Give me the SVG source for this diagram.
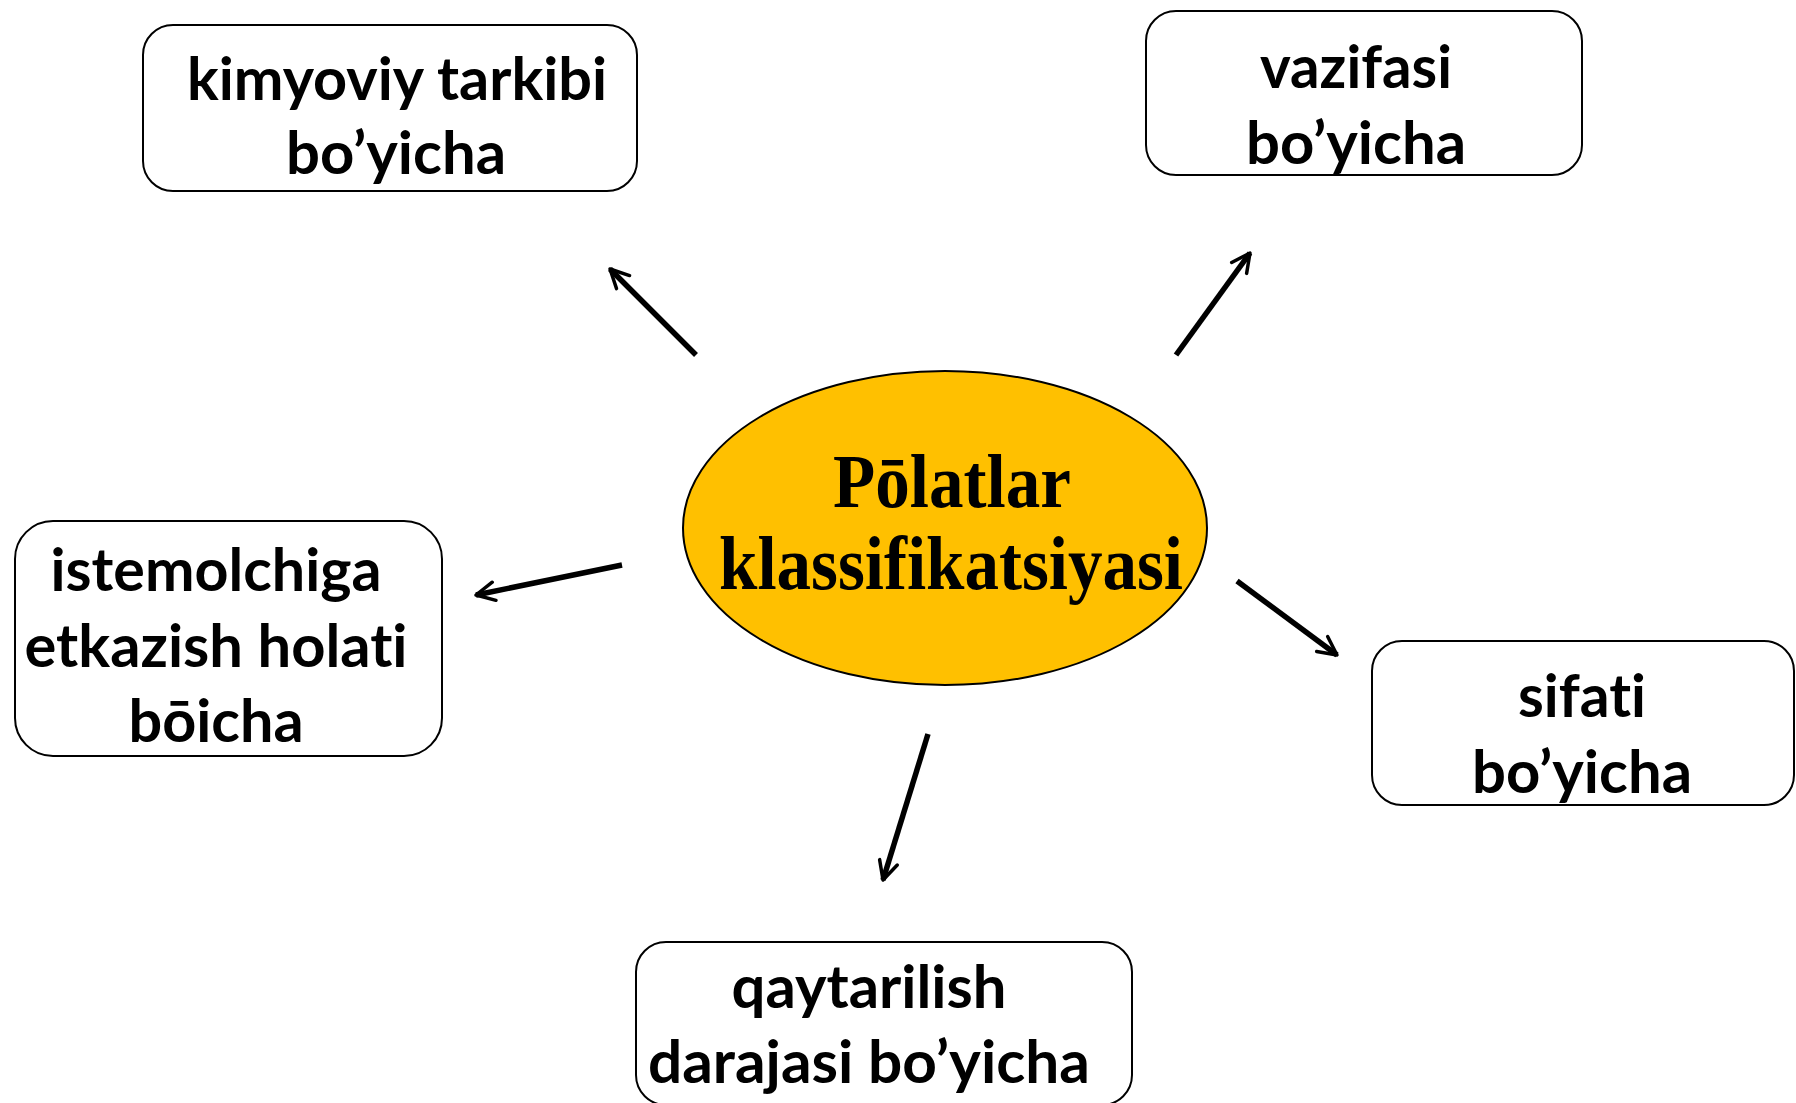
<svg xmlns="http://www.w3.org/2000/svg" width="1796" height="1103" viewBox="0 0 1796 1103">
<style>
.box{fill:#fff;stroke:#000;stroke-width:2}
.lbl{font-family:Lato,"Liberation Sans",sans-serif;font-weight:700;font-size:59px;fill:#000;text-anchor:middle;font-variant-ligatures:none;font-feature-settings:"liga" 0,"clig" 0}
.ctr{font-family:"Liberation Serif","Times New Roman",serif;font-weight:700;font-size:76px;fill:#000;text-anchor:middle}
.conn{stroke:#000;stroke-width:5.5;fill:none;marker-end:url(#arr)}
</style>
<defs>
<marker id="arr" viewBox="0 0 10 10" markerWidth="4.2" markerHeight="4.2" refX="9" refY="5" orient="auto" markerUnits="strokeWidth">
<path d="M1,1 L9,5 L1,9" fill="none" stroke="#000" stroke-width="1.5" stroke-linecap="round" stroke-linejoin="round"/>
</marker>
</defs>
<rect width="1796" height="1103" fill="#fff"/>
<g id="connectors">
<line class="conn" x1="696" y1="355" x2="610" y2="269"/>
<line class="conn" x1="1176" y1="355" x2="1250" y2="253"/>
<line class="conn" x1="622" y1="565" x2="476" y2="595"/>
<line class="conn" x1="1237" y1="581" x2="1337" y2="655"/>
<line class="conn" x1="928" y1="734" x2="883" y2="880"/>
</g>
<g id="center">
<ellipse cx="945" cy="528" rx="262" ry="157" fill="#FFC000" stroke="#000" stroke-width="2"/>
<text class="ctr" x="952" y="507" textLength="238" lengthAdjust="spacingAndGlyphs">Pōlatlar</text>
<text class="ctr" x="951" y="589" textLength="464" lengthAdjust="spacingAndGlyphs">klassifikatsiyasi</text>
</g>
<g id="kimyoviy">
<rect class="box" x="143" y="25" width="494" height="166" rx="30"/>
<text class="lbl" x="397" y="100" textLength="420" lengthAdjust="spacingAndGlyphs">kimyoviy tarkibi</text>
<text class="lbl" x="396" y="174" textLength="220" lengthAdjust="spacingAndGlyphs">bo’yicha</text>
</g>
<g id="vazifasi">
<rect class="box" x="1146" y="11" width="436" height="164" rx="30"/>
<text class="lbl" x="1356" y="88" textLength="192" lengthAdjust="spacingAndGlyphs">vazifasi</text>
<text class="lbl" x="1356" y="164" textLength="220" lengthAdjust="spacingAndGlyphs">bo’yicha</text>
</g>
<g id="istemolchiga">
<rect class="box" x="15" y="521" width="427" height="235" rx="38"/>
<text class="lbl" x="216" y="591" textLength="331" lengthAdjust="spacingAndGlyphs">istemolchiga</text>
<text class="lbl" x="216" y="667" textLength="383" lengthAdjust="spacingAndGlyphs">etkazish holati</text>
<text class="lbl" x="216" y="742" textLength="175" lengthAdjust="spacingAndGlyphs">bōicha</text>
</g>
<g id="sifati">
<rect class="box" x="1372" y="641" width="422" height="164" rx="30"/>
<text class="lbl" x="1582" y="717" textLength="128" lengthAdjust="spacingAndGlyphs">sifati</text>
<text class="lbl" x="1582" y="793" textLength="220" lengthAdjust="spacingAndGlyphs">bo’yicha</text>
</g>
<g id="qaytarilish">
<rect class="box" x="636" y="942" width="496" height="163" rx="30"/>
<text class="lbl" x="869" y="1008" textLength="275" lengthAdjust="spacingAndGlyphs">qaytarilish</text>
<text class="lbl" x="869" y="1083" textLength="442" lengthAdjust="spacingAndGlyphs">darajasi bo’yicha</text>
</g>
</svg>
